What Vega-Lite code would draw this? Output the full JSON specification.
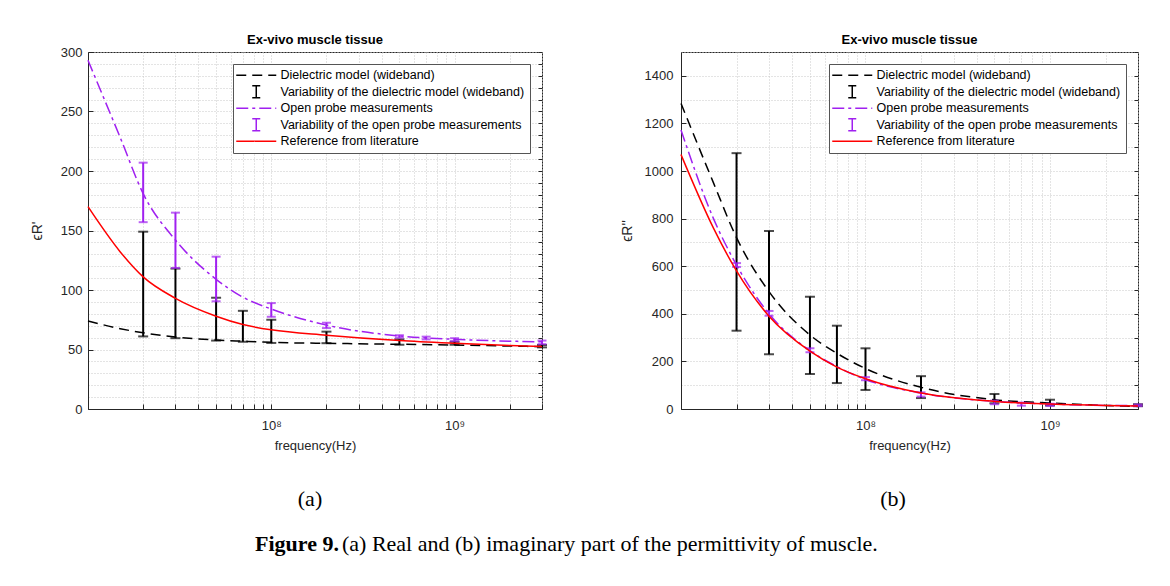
{
  "$schema": "https://vega.github.io/schema/vega-lite/v6.json",
  "background": "white",
  "padding": {"left": 29, "top": 33, "right": 5, "bottom": 5},
  "datasets": {
    "lines": [
      {"p": "a", "s": "Dielectric model (wideband)", "f": 10000000, "v": 74},
      {"p": "a", "s": "Dielectric model (wideband)", "f": 15000000, "v": 67.5},
      {"p": "a", "s": "Dielectric model (wideband)", "f": 20000000, "v": 64},
      {"p": "a", "s": "Dielectric model (wideband)", "f": 30000000, "v": 60.5},
      {"p": "a", "s": "Dielectric model (wideband)", "f": 50000000, "v": 58},
      {"p": "a", "s": "Dielectric model (wideband)", "f": 70000000, "v": 57},
      {"p": "a", "s": "Dielectric model (wideband)", "f": 100000000, "v": 56},
      {"p": "a", "s": "Dielectric model (wideband)", "f": 200000000, "v": 55.2},
      {"p": "a", "s": "Dielectric model (wideband)", "f": 500000000, "v": 54.4},
      {"p": "a", "s": "Dielectric model (wideband)", "f": 1000000000, "v": 53.8},
      {"p": "a", "s": "Dielectric model (wideband)", "f": 2000000000, "v": 52.9},
      {"p": "a", "s": "Dielectric model (wideband)", "f": 3000000000, "v": 52.4},
      {"p": "a", "s": "Open probe measurements", "f": 10000000, "v": 293},
      {"p": "a", "s": "Open probe measurements", "f": 15000000, "v": 228},
      {"p": "a", "s": "Open probe measurements", "f": 20000000, "v": 181},
      {"p": "a", "s": "Open probe measurements", "f": 30000000, "v": 142},
      {"p": "a", "s": "Open probe measurements", "f": 50000000, "v": 109},
      {"p": "a", "s": "Open probe measurements", "f": 70000000, "v": 94},
      {"p": "a", "s": "Open probe measurements", "f": 100000000, "v": 84},
      {"p": "a", "s": "Open probe measurements", "f": 200000000, "v": 70.5},
      {"p": "a", "s": "Open probe measurements", "f": 500000000, "v": 61.4},
      {"p": "a", "s": "Open probe measurements", "f": 1000000000, "v": 58.6},
      {"p": "a", "s": "Open probe measurements", "f": 2000000000, "v": 57},
      {"p": "a", "s": "Open probe measurements", "f": 3000000000, "v": 56.4},
      {"p": "a", "s": "Reference from literature", "f": 10000000, "v": 170},
      {"p": "a", "s": "Reference from literature", "f": 15000000, "v": 132},
      {"p": "a", "s": "Reference from literature", "f": 20000000, "v": 111},
      {"p": "a", "s": "Reference from literature", "f": 30000000, "v": 93},
      {"p": "a", "s": "Reference from literature", "f": 50000000, "v": 78},
      {"p": "a", "s": "Reference from literature", "f": 70000000, "v": 71},
      {"p": "a", "s": "Reference from literature", "f": 100000000, "v": 66.5},
      {"p": "a", "s": "Reference from literature", "f": 200000000, "v": 62},
      {"p": "a", "s": "Reference from literature", "f": 500000000, "v": 57.5},
      {"p": "a", "s": "Reference from literature", "f": 1000000000, "v": 55.2},
      {"p": "a", "s": "Reference from literature", "f": 2000000000, "v": 53.3},
      {"p": "a", "s": "Reference from literature", "f": 3000000000, "v": 52.4},
      {"p": "b", "s": "Dielectric model (wideband)", "f": 10000000, "v": 1284},
      {"p": "b", "s": "Dielectric model (wideband)", "f": 15000000, "v": 950},
      {"p": "b", "s": "Dielectric model (wideband)", "f": 20000000, "v": 720},
      {"p": "b", "s": "Dielectric model (wideband)", "f": 30000000, "v": 493},
      {"p": "b", "s": "Dielectric model (wideband)", "f": 50000000, "v": 311},
      {"p": "b", "s": "Dielectric model (wideband)", "f": 70000000, "v": 234},
      {"p": "b", "s": "Dielectric model (wideband)", "f": 100000000, "v": 170},
      {"p": "b", "s": "Dielectric model (wideband)", "f": 200000000, "v": 91},
      {"p": "b", "s": "Dielectric model (wideband)", "f": 500000000, "v": 39},
      {"p": "b", "s": "Dielectric model (wideband)", "f": 1000000000, "v": 25},
      {"p": "b", "s": "Dielectric model (wideband)", "f": 2000000000, "v": 15},
      {"p": "b", "s": "Dielectric model (wideband)", "f": 3000000000, "v": 11},
      {"p": "b", "s": "Open probe measurements", "f": 10000000, "v": 1172},
      {"p": "b", "s": "Open probe measurements", "f": 15000000, "v": 800},
      {"p": "b", "s": "Open probe measurements", "f": 20000000, "v": 605},
      {"p": "b", "s": "Open probe measurements", "f": 30000000, "v": 400},
      {"p": "b", "s": "Open probe measurements", "f": 50000000, "v": 245},
      {"p": "b", "s": "Open probe measurements", "f": 70000000, "v": 178},
      {"p": "b", "s": "Open probe measurements", "f": 100000000, "v": 124},
      {"p": "b", "s": "Open probe measurements", "f": 200000000, "v": 67},
      {"p": "b", "s": "Open probe measurements", "f": 500000000, "v": 32},
      {"p": "b", "s": "Open probe measurements", "f": 1000000000, "v": 21},
      {"p": "b", "s": "Open probe measurements", "f": 2000000000, "v": 15},
      {"p": "b", "s": "Open probe measurements", "f": 3000000000, "v": 14},
      {"p": "b", "s": "Reference from literature", "f": 10000000, "v": 1069},
      {"p": "b", "s": "Reference from literature", "f": 15000000, "v": 760},
      {"p": "b", "s": "Reference from literature", "f": 20000000, "v": 580},
      {"p": "b", "s": "Reference from literature", "f": 30000000, "v": 390},
      {"p": "b", "s": "Reference from literature", "f": 50000000, "v": 243},
      {"p": "b", "s": "Reference from literature", "f": 70000000, "v": 176},
      {"p": "b", "s": "Reference from literature", "f": 100000000, "v": 127},
      {"p": "b", "s": "Reference from literature", "f": 200000000, "v": 67},
      {"p": "b", "s": "Reference from literature", "f": 500000000, "v": 32},
      {"p": "b", "s": "Reference from literature", "f": 1000000000, "v": 21},
      {"p": "b", "s": "Reference from literature", "f": 2000000000, "v": 15},
      {"p": "b", "s": "Reference from literature", "f": 3000000000, "v": 13}
    ],
    "bars": [
      {"p": "a", "s": "Variability of the dielectric model (wideband)", "f": 20000000, "lo": 61, "hi": 149},
      {"p": "a", "s": "Variability of the dielectric model (wideband)", "f": 30000000, "lo": 59.5, "hi": 118},
      {"p": "a", "s": "Variability of the dielectric model (wideband)", "f": 50000000, "lo": 57.5, "hi": 93.5},
      {"p": "a", "s": "Variability of the dielectric model (wideband)", "f": 70000000, "lo": 56.5, "hi": 82.5},
      {"p": "a", "s": "Variability of the dielectric model (wideband)", "f": 100000000, "lo": 55.5, "hi": 75},
      {"p": "a", "s": "Variability of the dielectric model (wideband)", "f": 200000000, "lo": 55.3, "hi": 65},
      {"p": "a", "s": "Variability of the dielectric model (wideband)", "f": 500000000, "lo": 54, "hi": 58.5},
      {"p": "a", "s": "Variability of the dielectric model (wideband)", "f": 1000000000, "lo": 54, "hi": 56.5},
      {"p": "a", "s": "Variability of the dielectric model (wideband)", "f": 3000000000, "lo": 51.8, "hi": 53.8},
      {"p": "a", "s": "Variability of the open probe measurements", "f": 20000000, "lo": 157, "hi": 207},
      {"p": "a", "s": "Variability of the open probe measurements", "f": 30000000, "lo": 118.5, "hi": 165},
      {"p": "a", "s": "Variability of the open probe measurements", "f": 50000000, "lo": 90.5, "hi": 128},
      {"p": "a", "s": "Variability of the open probe measurements", "f": 100000000, "lo": 77.5, "hi": 89},
      {"p": "a", "s": "Variability of the open probe measurements", "f": 200000000, "lo": 68, "hi": 72.5},
      {"p": "a", "s": "Variability of the open probe measurements", "f": 500000000, "lo": 60, "hi": 62},
      {"p": "a", "s": "Variability of the open probe measurements", "f": 700000000, "lo": 58.5, "hi": 60.8},
      {"p": "a", "s": "Variability of the open probe measurements", "f": 1000000000, "lo": 57, "hi": 59.5},
      {"p": "a", "s": "Variability of the open probe measurements", "f": 3000000000, "lo": 54.5, "hi": 57.5},
      {"p": "b", "s": "Variability of the dielectric model (wideband)", "f": 20000000, "lo": 329, "hi": 1075},
      {"p": "b", "s": "Variability of the dielectric model (wideband)", "f": 30000000, "lo": 230, "hi": 748},
      {"p": "b", "s": "Variability of the dielectric model (wideband)", "f": 50000000, "lo": 147, "hi": 472},
      {"p": "b", "s": "Variability of the dielectric model (wideband)", "f": 70000000, "lo": 109, "hi": 350},
      {"p": "b", "s": "Variability of the dielectric model (wideband)", "f": 100000000, "lo": 80, "hi": 255},
      {"p": "b", "s": "Variability of the dielectric model (wideband)", "f": 200000000, "lo": 46, "hi": 138},
      {"p": "b", "s": "Variability of the dielectric model (wideband)", "f": 500000000, "lo": 24, "hi": 63},
      {"p": "b", "s": "Variability of the dielectric model (wideband)", "f": 1000000000, "lo": 15, "hi": 39},
      {"p": "b", "s": "Variability of the dielectric model (wideband)", "f": 3000000000, "lo": 12, "hi": 20},
      {"p": "b", "s": "Variability of the open probe measurements", "f": 20000000, "lo": 597, "hi": 613},
      {"p": "b", "s": "Variability of the open probe measurements", "f": 30000000, "lo": 392, "hi": 412},
      {"p": "b", "s": "Variability of the open probe measurements", "f": 50000000, "lo": 238, "hi": 255},
      {"p": "b", "s": "Variability of the open probe measurements", "f": 100000000, "lo": 121, "hi": 134},
      {"p": "b", "s": "Variability of the open probe measurements", "f": 200000000, "lo": 52, "hi": 70},
      {"p": "b", "s": "Variability of the open probe measurements", "f": 500000000, "lo": 20, "hi": 35},
      {"p": "b", "s": "Variability of the open probe measurements", "f": 700000000, "lo": 14, "hi": 27},
      {"p": "b", "s": "Variability of the open probe measurements", "f": 1000000000, "lo": 13, "hi": 22},
      {"p": "b", "s": "Variability of the open probe measurements", "f": 3000000000, "lo": 12, "hi": 19}
    ]
  },
  "spacing": 0,
  "vconcat": [
    {
      "spacing": 71,
      "resolve": {"scale": {"color": "independent", "x": "independent", "y": "independent"}, "legend": {"color": "independent"}},
      "hconcat": [
        {
          "width": 454,
          "height": 357,
          "title": {"text": "Ex-vivo muscle tissue"},
          "resolve": {"axis": {"y": "independent"}},
          "encoding": {
            "x": {"field": "f", "type": "quantitative", "title": "frequency(Hz)",
              "scale": {"type": "log", "domain": [10000000, 3000000000], "nice": false},
              "axis": {"values": [20000000, 30000000, 40000000, 50000000, 60000000, 70000000, 80000000, 90000000, 100000000, 200000000, 300000000, 400000000, 500000000, 600000000, 700000000, 800000000, 900000000, 1000000000, 2000000000, 3000000000],
                "labelExpr": "datum.value === 100000000 ? '10⁸' : (datum.value === 1000000000 ? '10⁹' : '')",
                "labelOverlap": false, "labelPadding": 15, "titlePadding": 7}},
            "color": {"field": "s", "type": "nominal",
              "scale": {"domain": ["Dielectric model (wideband)", "Variability of the dielectric model (wideband)", "Open probe measurements", "Variability of the open probe measurements", "Reference from literature"],
                "range": ["#000000", "#000000", "#a020f0", "#a020f0", "#ff0000"]},
              "legend": {
                "title": null, "orient": "top-right", "offset": 12, "padding": 5,
                "fillColor": "white", "strokeColor": "#555555", "labelLimit": 400,
                "labelFont": "Liberation Sans", "labelFontSize": 12.5, "labelColor": "#000000",
                "symbolSize": 100, "symbolStrokeWidth": 1.5, "symbolOffset": 12, "labelOffset": 18, "rowPadding": 0.5,
                "encode": {"symbols": {"update": {
                  "shape": {"signal": "indexof(datum.value, 'Variability') === 0 ? 'M -0.8 -1.2 L 0.8 -1.2 M 0 -1.2 L 0 1.2 M -0.8 1.2 L 0.8 1.2' : 'M -4 0 L 4 0'"},
                  "strokeDash": {"signal": "datum.value === 'Dielectric model (wideband)' ? [10, 6] : (datum.value === 'Open probe measurements' ? [12, 4, 3, 4] : [1, 0])"},
                  "fill": {"value": "transparent"}
                }}}
              }}
          },
          "layer": [
            {"data": {"name": "lines"}, "transform": [{"filter": "datum.p === 'a' && datum.s === 'Dielectric model (wideband)'"}],
              "mark": {"type": "line", "strokeDash": [10, 6], "strokeWidth": 1.5, "interpolate": "monotone"},
              "encoding": {"y": {"field": "v", "type": "quantitative", "title": "ϵR'", "scale": {"domain": [0, 300], "nice": false},
                "axis": {"orient": "left", "values": [0, 50, 100, 150, 200, 250, 300], "grid": false, "format": "d", "labelPadding": 11, "titlePadding": 16, "titleFontSize": 14}}}},
            {"data": {"name": "bars"}, "transform": [{"filter": "datum.p === 'a' && datum.s === 'Variability of the dielectric model (wideband)'"}],
              "mark": {"type": "rule", "strokeWidth": 2},
              "encoding": {"y": {"field": "lo", "type": "quantitative", "title": null,
                "axis": {"orient": "right", "values": [0,10,20,30,40,50,60,70,80,90,100,110,120,130,140,150,160,170,180,190,200,210,220,230,240,250,260,270,280,290,300],
                  "labelExpr": "(datum.value === 300 || datum.value === 1500) ? ' ' : ''", "labelPadding": 4, "domain": false, "grid": true, "tickSize": -4}}, "y2": {"field": "hi"}}},
            {"data": {"name": "bars"}, "transform": [{"filter": "datum.p === 'a' && datum.s === 'Variability of the dielectric model (wideband)'"}, {"fold": ["lo", "hi"], "as": ["end", "v"]}],
              "mark": {"type": "tick", "orient": "horizontal", "size": 10, "thickness": 2},
              "encoding": {"y": {"field": "v", "type": "quantitative", "axis": null}}},
            {"data": {"name": "lines"}, "transform": [{"filter": "datum.p === 'a' && datum.s === 'Open probe measurements'"}],
              "mark": {"type": "line", "strokeDash": [12, 4, 3, 4], "strokeWidth": 1.5, "interpolate": "monotone"},
              "encoding": {"y": {"field": "v", "type": "quantitative", "axis": null}}},
            {"data": {"name": "bars"}, "transform": [{"filter": "datum.p === 'a' && datum.s === 'Variability of the open probe measurements'"}],
              "mark": {"type": "rule", "strokeWidth": 2},
              "encoding": {"y": {"field": "lo", "type": "quantitative", "axis": null}, "y2": {"field": "hi"}}},
            {"data": {"name": "bars"}, "transform": [{"filter": "datum.p === 'a' && datum.s === 'Variability of the open probe measurements'"}, {"fold": ["lo", "hi"], "as": ["end", "v"]}],
              "mark": {"type": "tick", "orient": "horizontal", "size": 9, "thickness": 2},
              "encoding": {"y": {"field": "v", "type": "quantitative", "axis": null}}},
            {"data": {"name": "lines"}, "transform": [{"filter": "datum.p === 'a' && datum.s === 'Reference from literature'"}],
              "mark": {"type": "line", "strokeWidth": 1.5, "interpolate": "monotone"},
              "encoding": {"y": {"field": "v", "type": "quantitative", "axis": null}}}
          ]
        },
        {
          "width": 457,
          "height": 357,
          "title": {"text": "Ex-vivo muscle tissue"},
          "resolve": {"axis": {"y": "independent"}},
          "encoding": {
            "x": {"field": "f", "type": "quantitative", "title": "frequency(Hz)",
              "scale": {"type": "log", "domain": [10000000, 3000000000], "nice": false},
              "axis": {"values": [20000000, 30000000, 40000000, 50000000, 60000000, 70000000, 80000000, 90000000, 100000000, 200000000, 300000000, 400000000, 500000000, 600000000, 700000000, 800000000, 900000000, 1000000000, 2000000000, 3000000000],
                "labelExpr": "datum.value === 100000000 ? '10⁸' : (datum.value === 1000000000 ? '10⁹' : '')",
                "labelOverlap": false, "labelPadding": 15, "titlePadding": 7}},
            "color": {"field": "s", "type": "nominal",
              "scale": {"domain": ["Dielectric model (wideband)", "Variability of the dielectric model (wideband)", "Open probe measurements", "Variability of the open probe measurements", "Reference from literature"],
                "range": ["#000000", "#000000", "#a020f0", "#a020f0", "#ff0000"]},
              "legend": {
                "title": null, "orient": "top-right", "offset": 12, "padding": 5,
                "fillColor": "white", "strokeColor": "#555555", "labelLimit": 400,
                "labelFont": "Liberation Sans", "labelFontSize": 12.5, "labelColor": "#000000",
                "symbolSize": 100, "symbolStrokeWidth": 1.5, "symbolOffset": 12, "labelOffset": 18, "rowPadding": 0.5,
                "encode": {"symbols": {"update": {
                  "shape": {"signal": "indexof(datum.value, 'Variability') === 0 ? 'M -0.8 -1.2 L 0.8 -1.2 M 0 -1.2 L 0 1.2 M -0.8 1.2 L 0.8 1.2' : 'M -4 0 L 4 0'"},
                  "strokeDash": {"signal": "datum.value === 'Dielectric model (wideband)' ? [10, 6] : (datum.value === 'Open probe measurements' ? [12, 4, 3, 4] : [1, 0])"},
                  "fill": {"value": "transparent"}
                }}}
              }}
          },
          "layer": [
            {"data": {"name": "lines"}, "transform": [{"filter": "datum.p === 'b' && datum.s === 'Dielectric model (wideband)'"}],
              "mark": {"type": "line", "strokeDash": [10, 6], "strokeWidth": 1.5, "interpolate": "monotone"},
              "encoding": {"y": {"field": "v", "type": "quantitative", "title": "ϵR''", "scale": {"domain": [0, 1500], "nice": false},
                "axis": {"orient": "left", "values": [0, 200, 400, 600, 800, 1000, 1200, 1400], "grid": false, "format": "d", "labelPadding": 13, "titlePadding": 10, "titleFontSize": 14}}}},
            {"data": {"name": "bars"}, "transform": [{"filter": "datum.p === 'b' && datum.s === 'Variability of the dielectric model (wideband)'"}],
              "mark": {"type": "rule", "strokeWidth": 2},
              "encoding": {"y": {"field": "lo", "type": "quantitative", "title": null,
                "axis": {"orient": "right", "values": [0,100,200,300,400,500,600,700,800,900,1000,1100,1200,1300,1400,1500],
                  "labelExpr": "(datum.value === 300 || datum.value === 1500) ? ' ' : ''", "labelPadding": 4, "domain": false, "grid": true, "tickSize": -4}}, "y2": {"field": "hi"}}},
            {"data": {"name": "bars"}, "transform": [{"filter": "datum.p === 'b' && datum.s === 'Variability of the dielectric model (wideband)'"}, {"fold": ["lo", "hi"], "as": ["end", "v"]}],
              "mark": {"type": "tick", "orient": "horizontal", "size": 10, "thickness": 2},
              "encoding": {"y": {"field": "v", "type": "quantitative", "axis": null}}},
            {"data": {"name": "lines"}, "transform": [{"filter": "datum.p === 'b' && datum.s === 'Open probe measurements'"}],
              "mark": {"type": "line", "strokeDash": [12, 4, 3, 4], "strokeWidth": 1.5, "interpolate": "monotone"},
              "encoding": {"y": {"field": "v", "type": "quantitative", "axis": null}}},
            {"data": {"name": "bars"}, "transform": [{"filter": "datum.p === 'b' && datum.s === 'Variability of the open probe measurements'"}],
              "mark": {"type": "rule", "strokeWidth": 2},
              "encoding": {"y": {"field": "lo", "type": "quantitative", "axis": null}, "y2": {"field": "hi"}}},
            {"data": {"name": "bars"}, "transform": [{"filter": "datum.p === 'b' && datum.s === 'Variability of the open probe measurements'"}, {"fold": ["lo", "hi"], "as": ["end", "v"]}],
              "mark": {"type": "tick", "orient": "horizontal", "size": 9, "thickness": 2},
              "encoding": {"y": {"field": "v", "type": "quantitative", "axis": null}}},
            {"data": {"name": "lines"}, "transform": [{"filter": "datum.p === 'b' && datum.s === 'Reference from literature'"}],
              "mark": {"type": "line", "strokeWidth": 1.5, "interpolate": "monotone"},
              "encoding": {"y": {"field": "v", "type": "quantitative", "axis": null}}}
          ]
        }
      ]
    },
    {
      "spacing": 211,
      "hconcat": [
        {"width": 444, "height": 80, "view": {"stroke": null},
          "data": {"values": [{"t": "(a)"}]},
          "mark": {"type": "text", "font": "Liberation Serif", "fontSize": 22, "baseline": "middle", "dy": 6, "color": "#000000"},
          "encoding": {"text": {"field": "t"}}},
        {"width": 300, "height": 80, "view": {"stroke": null},
          "data": {"values": [{"t": "(b)"}]},
          "mark": {"type": "text", "font": "Liberation Serif", "fontSize": 22, "baseline": "middle", "dy": 6, "color": "#000000"},
          "encoding": {"text": {"field": "t"}}}
      ]
    },
    {
      "width": 1000, "height": 10, "view": {"stroke": null},
      "data": {"values": [{"b": "Figure 9.", "t": "(a) Real and (b) imaginary part of the permittivity of muscle."}]},
      "layer": [
        {"mark": {"type": "text", "font": "Liberation Serif", "fontSize": 22, "fontWeight": "bold", "align": "left", "baseline": "middle", "dx": -333, "dy": 1, "color": "#000000"},
          "encoding": {"text": {"field": "b"}}},
        {"mark": {"type": "text", "font": "Liberation Serif", "fontSize": 22, "align": "left", "baseline": "middle", "dx": -246, "dy": 1, "color": "#000000"},
          "encoding": {"text": {"field": "t"}}}
      ]
    }
  ],
  "config": {
    "font": "Liberation Sans",
    "view": {"stroke": "#262626", "strokeWidth": 1},
    "title": {"font": "Liberation Sans", "fontSize": 13, "fontWeight": "bold", "color": "#000000", "offset": -1, "anchor": "middle"},
    "axis": {
      "labelFont": "Liberation Sans", "labelFontSize": 13, "labelColor": "#262626",
      "titleFont": "Liberation Sans", "titleFontSize": 13, "titleFontWeight": "normal", "titleColor": "#262626",
      "domainColor": "#262626", "tickColor": "#262626", "tickSize": -5, "labelPadding": 6,
      "gridColor": "#c8c8c8", "gridDash": [1, 2], "labelOverlap": false, "labelFlush": false
    }
  }
}
